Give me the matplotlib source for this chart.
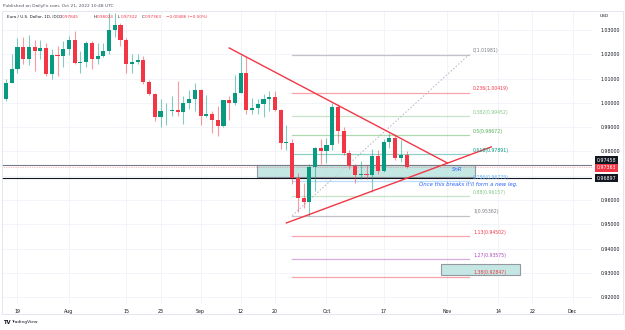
import numpy as np
import matplotlib.pyplot as plt
from matplotlib.patches import Rectangle
from matplotlib.transforms import blended_transform_factory, offset_copy

# EUR/USD daily candles, Jul 15 - Oct 21 2022 (trading days only)
opens = [1.0018, 1.0082, 1.0141, 1.0230, 1.0180, 1.0230, 1.0212, 1.0224, 1.0120, 1.0198,
         1.0195, 1.0220, 1.0260, 1.0165, 1.0167, 1.0245, 1.0180, 1.0195, 1.0212, 1.0298,
         1.0320, 1.0260, 1.0160, 1.0170, 1.0177, 1.0087, 1.0038, 0.9942, 0.9966, 0.9968,
         0.9972, 0.9963, 1.0000, 1.0015, 1.0054, 0.9945, 0.9955, 0.9930, 0.9905, 1.0010,
         0.9998, 1.0042, 1.0122, 0.9970, 0.9980, 0.9995, 1.0015, 1.0025, 0.9970, 0.9836,
         0.9837, 0.9690, 0.9607, 0.9593, 0.9738, 0.9815, 0.9800, 0.9826, 0.9985, 0.9885,
         0.9793, 0.9741, 0.9704, 0.9708, 0.9705, 0.9780, 0.9720, 0.9840, 0.9855, 0.9775,
         0.97845]
highs = [1.0099, 1.0202, 1.0269, 1.0273, 1.0278, 1.0258, 1.0259, 1.0248, 1.0221, 1.0233,
         1.0254, 1.0274, 1.0294, 1.0214, 1.0254, 1.0253, 1.0248, 1.0248, 1.0368, 1.0368,
         1.0330, 1.0268, 1.0202, 1.0202, 1.0192, 1.0095, 1.0040, 1.0018, 0.9999, 1.0029,
         1.0090, 1.0028, 1.0055, 1.0080, 1.0056, 1.0033, 0.9965, 0.9988, 1.0012, 1.0030,
         1.0113, 1.0198, 1.0188, 1.0019, 1.0017, 1.0037, 1.0051, 1.0050, 0.9976, 0.9907,
         0.9852, 0.9710, 0.9670, 0.9750, 0.9817, 0.9853, 0.9854, 0.9999, 0.9995, 0.9900,
         0.9808, 0.9750, 0.9760, 0.9744, 0.9809, 0.9806, 0.9852, 0.9875, 0.9870, 0.9846,
         0.98024]
lows = [1.0007, 1.0081, 1.0125, 1.0160, 1.0154, 1.0130, 1.0180, 1.0110, 1.0097, 1.0112,
        1.0146, 1.0198, 1.0160, 1.0123, 1.0149, 1.0141, 1.0160, 1.0189, 1.0202, 1.0272,
        1.0234, 1.0123, 1.0122, 1.0160, 1.0076, 1.0032, 0.9926, 0.9901, 0.9910, 0.9947,
        0.9948, 0.9914, 0.9975, 0.9966, 0.9910, 0.9941, 0.9876, 0.9864, 0.9900, 0.9929,
        0.9993, 1.0041, 0.9956, 0.9955, 0.9954, 0.9944, 0.9966, 0.9966, 0.9810, 0.9807,
        0.9668, 0.9553, 0.9566, 0.9535, 0.9636, 0.9748, 0.9751, 0.9808, 0.9836, 0.9787,
        0.9730, 0.9670, 0.9685, 0.9685, 0.9632, 0.9707, 0.9715, 0.9816, 0.9767, 0.9755,
        0.97322]
closes = [1.0080, 1.0141, 1.0230, 1.0180, 1.0230, 1.0212, 1.0224, 1.0120, 1.0198, 1.0195,
          1.0220, 1.0260, 1.0165, 1.0167, 1.0245, 1.0180, 1.0195, 1.0212, 1.0298, 1.0320,
          1.0260, 1.0160, 1.0170, 1.0177, 1.0087, 1.0038, 0.9942, 0.9966, 0.9968, 0.9972,
          0.9963, 1.0000, 1.0015, 1.0054, 0.9945, 0.9955, 0.9930, 0.9905, 1.0010, 0.9998,
          1.0042, 1.0122, 0.9970, 0.9980, 0.9995, 1.0015, 1.0025, 0.9970, 0.9836, 0.9837,
          0.9690, 0.9607, 0.9593, 0.9738, 0.9815, 0.9800, 0.9826, 0.9985, 0.9885, 0.9793,
          0.9741, 0.9704, 0.9708, 0.9705, 0.9780, 0.9720, 0.9840, 0.9855, 0.9775, 0.9786,
          0.97363]

tick_pos = [2, 11, 21, 27, 34, 41, 47, 56, 66, 77, 86, 92, 99]
tick_labels = ["19", "Aug", "15", "23", "Sep", "12", "20", "Oct", "17", "Nov", "14", "22", "Dec"]
price_ticks = [0.92, 0.93, 0.94, 0.95, 0.96, 0.97, 0.98, 0.99, 1.00, 1.01, 1.02, 1.03]

# fibonacci levels drawn on the chart
fib_ratios = ["0", "0.236", "0.382", "0.5", "0.618", "0.786", "0.88", "1", "1.13", "1.27", "1.38"]
fib_prices = [1.01981, 1.00419, 0.99452, 0.98672, 0.97891, 0.96779, 0.96157, 0.95362, 0.94502, 0.93575, 0.92847]
fib_colors = ["#787b86", "#f23645", "#81c784", "#4caf50", "#089981", "#64b5f6", "#81c784",
              "#787b86", "#f23645", "#ab47bc", "#f23645"]
fib_x = [50.0, 80.9]

# hand drawn trend lines (bar index, price)
down_line = ([39.0, 77.1], [1.0226, 0.9753])
up_line = ([49.0, 84.8], [0.9506, 0.9819])
diag_line = ([50.0, 80.9], [0.95362, 1.01981])

snr_box = (43.9, 82.0, 0.9695, 0.97444)
target_box = (76.0, 89.9, 0.9292, 0.9338)
res_level = 0.97458
sup_level = 0.96897
last_price = 0.97363

UP = "#089981"
DOWN = "#f23645"

fig = plt.figure(figsize=(6.25, 3.3), dpi=100)
W, H = 625, 330
ax = fig.add_axes([2 / W, 1 - 304 / H, 590 / W, 293 / H])

ax.set_xlim(-0.7, 102.4)
ax.set_ylim(0.91724, 1.03782)

for x in tick_pos:
    ax.axvline(x, color="#f0f3fa", lw=0.6, zorder=0)
for y in price_ticks:
    ax.axhline(y, color="#f0f3fa", lw=0.6, zorder=0)

idx = np.arange(len(closes))
o = np.array(opens)
c = np.array(closes)
cols = [UP if cc >= oo else DOWN for oo, cc in zip(o, c)]
ax.vlines(idx, lows, highs, colors=cols, lw=0.8, alpha=0.5, zorder=3)
bottoms = np.minimum(o, c)
heights = np.maximum(np.abs(c - o), 0.00025)
ax.bar(idx, heights, bottom=bottoms, width=0.72, color=cols, zorder=4, linewidth=0)

# fib levels
for r, p, col in zip(fib_ratios, fib_prices, fib_colors):
    ax.plot(fib_x, [p, p], color=col, lw=0.9, alpha=0.45, zorder=2)
    ax.text(fib_x[1] + 0.7, p + 0.0016, f"{r}({p:.5f})", color=col, fontsize=3.3,
            va="center", ha="left", zorder=6)
ax.plot(*diag_line, color="#b2b5be", lw=0.7, ls=(0, (1.5, 2)), zorder=2)

# support / resistance zone
x0, x1, y0, y1 = snr_box
ax.add_patch(Rectangle((x0, y0), x1 - x0, y1 - y0, facecolor="#b2dfdb", alpha=0.75,
                       edgecolor="#787b86", lw=0.8, zorder=2))
x0, x1, y0, y1 = target_box
ax.add_patch(Rectangle((x0, y0), x1 - x0, y1 - y0, facecolor="#b2dfdb", alpha=0.75,
                       edgecolor="#787b86", lw=0.8, zorder=5))

ax.axhline(res_level, color="#787b86", lw=0.8, zorder=2)
ax.axhline(sup_level, color="#131722", lw=0.8, zorder=2)
ax.axhline(last_price, color=DOWN, lw=0.5, ls=(0, (1, 1.5)), alpha=0.6, zorder=2)

ax.plot(*down_line, color=DOWN, lw=1.0, zorder=5)
ax.plot(*up_line, color=DOWN, lw=1.0, zorder=5)

ax.text(78.8, 0.9724, "SnR", color="#2962ff", fontsize=3.9, style="italic", ha="center", va="center", zorder=7)
ax.text(72.2, 0.9666, "Once this breaks it'll form a new leg.", color="#2962ff", fontsize=3.9,
        style="italic", ha="left", va="center", zorder=7)

# axes styling (0.97000 label is hidden behind the price tags in the original)
ax.set_xticks(tick_pos)
ax.set_xticklabels(tick_labels)
ax.set_yticks(price_ticks)
ax.set_yticklabels(["" if p == 0.97 else f"{p:.5f}" for p in price_ticks])
ax.yaxis.tick_right()
ax.tick_params(axis="both", length=0, labelsize=3.4, colors="#131722")
ax.tick_params(axis="y", pad=6)
ax.tick_params(axis="x", pad=3.5)
for s in ax.spines.values():
    s.set_visible(False)

# price tags on the right scale (the upper one is nudged so they don't collide)
tr = blended_transform_factory(ax.transAxes, ax.transData)
for p, bg, dy in [(res_level, "#131722", 4.5), (last_price, DOWN, -1.0), (sup_level, "#131722", 0)]:
    t = offset_copy(tr, fig=fig, y=dy, units="dots")
    ax.text(1.008, p, f"{p:.5f}", transform=t, fontsize=3.4, color="white", ha="left", va="center",
            bbox=dict(boxstyle="square,pad=0.3", fc=bg, ec="none"), clip_on=False, zorder=10)

# frame and header texts
fig.patches.append(Rectangle((2 / W, 1 - 314 / H), 621 / W, 303 / H, transform=fig.transFigure,
                             fill=False, ec="#e0e3eb", lw=0.6))
fig.text(3 / W, 1 - 6.5 / H, "Published on DailyFx.com, Oct 21, 2022 10:48 UTC", fontsize=3.2,
         color="#50535e", va="center")
fig.text(7 / W, 1 - 17 / H, "Euro / U.S. Dollar, 1D, IDC", fontsize=3.0, color="#131722", va="center")
legend_parts = [(59, "O", "0.97845"), (94, "H", "0.98024"), (118, "L", "0.97322"), (142, "C", "0.97363")]
for px, k, v in legend_parts:
    fig.text(px / W, 1 - 17 / H, k, fontsize=3.0, color="#131722", va="center")
    fig.text((px + 3.2) / W, 1 - 17 / H, v, fontsize=3.0, color=DOWN, va="center")
fig.text(166 / W, 1 - 17 / H, "\u22120.00486 (\u22120.50%)", fontsize=3.0, color=DOWN, va="center")
fig.text(600 / W, 1 - 16 / H, "USD", fontsize=3.2, color="#131722", va="center")
fig.text(3 / W, 1 - 322 / H, "TV", fontsize=3.8, color="#131722", va="center", weight="bold")
fig.text(11 / W, 1 - 322 / H, "TradingView", fontsize=3.2, color="#131722", va="center")

fig.savefig("out.png", dpi=100)
